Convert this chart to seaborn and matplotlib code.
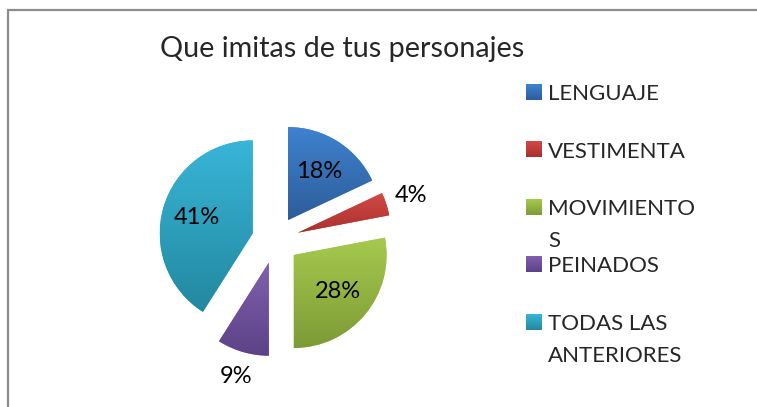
import numpy as np
import matplotlib.pyplot as plt
import seaborn as sns
from matplotlib.colors import LinearSegmentedColormap

# chart data
title = "Que imitas de tus personajes"
categories = ["LENGUAJE", "VESTIMENTA", "MOVIMIENTOS", "PEINADOS", "TODAS LAS ANTERIORES"]
legend_labels = ["LENGUAJE", "VESTIMENTA", "MOVIMIENTO\nS", "PEINADOS", "TODAS LAS\nANTERIORES"]
values = [18, 4, 28, 9, 41]
top_colors = ["#3F82CF", "#D34A46", "#A6CA4E", "#8160AE", "#38B5D8"]
bottom_colors = ["#2D5D9A", "#A8302C", "#7D9A36", "#5C4286", "#23889F"]

W, H = 757, 407
sns.set_theme(style="white")
plt.rcParams['font.family'] = ['Lato', 'DejaVu Sans']

fig = plt.figure(figsize=(W / 100, H / 100), dpi=100)
ax = fig.add_axes([0, 0, 1, 1])

# pie in pixel-like coordinates (y up)
cx, cy = 275.4, H - 240
radius = 93
explode_px = 23.6

wedges, texts, autotexts = ax.pie(
    values,
    colors=top_colors,
    startangle=90,
    counterclock=False,
    center=(cx, cy),
    radius=radius,
    explode=[explode_px] * len(values),
    autopct='%1.0f%%',
    pctdistance=0.62,
    textprops=dict(fontsize=17, color='black'),
    wedgeprops=dict(linewidth=0),
)

# vertical gradient fill in each wedge
grad = np.linspace(0, 1, 256).reshape(-1, 1)
for w, c0, c1 in zip(wedges, top_colors, bottom_colors):
    cmap = LinearSegmentedColormap.from_list('g', [c0, c1])
    bb = w.get_path().get_extents()
    im = ax.imshow(grad, cmap=cmap, extent=[bb.x0, bb.x1, bb.y0, bb.y1],
                   origin='upper', aspect='auto', zorder=1.5)
    im.set_clip_path(w)

# small slices get their label outside
for w, t, v in zip(wedges, autotexts, values):
    if v < 10:
        th = np.deg2rad((w.theta1 + w.theta2) / 2)
        t.set_position((w.center[0] + 1.28 * radius * np.cos(th),
                        w.center[1] + 1.28 * radius * np.sin(th)))

# title
ax.text(160, H - 57, title, fontsize=20.7, va='baseline', ha='left')

# legend
for i, (lab, c0, c1) in enumerate(zip(legend_labels, top_colors, bottom_colors)):
    base = 100 + 57.5 * i
    cmap = LinearSegmentedColormap.from_list('g', [c0, c1])
    ax.imshow(grad, cmap=cmap, extent=[526, 542, H - base, H - base + 16],
              origin='upper', aspect='auto', zorder=2)
    for j, line in enumerate(lab.split('\n')):
        ax.text(548, H - (base + 32 * j), line, fontsize=16, va='baseline', ha='left')

# chart frame (only left and top visible)
ax.plot([8, 8, W + 5], [-5, H - 9.5, H - 9.5], color='#8C8C8C', lw=1.6, solid_joinstyle='miter')

ax.set_xlim(0, W)
ax.set_ylim(0, H)
ax.axis('off')

fig.savefig('out.png', dpi=100, facecolor='white')
